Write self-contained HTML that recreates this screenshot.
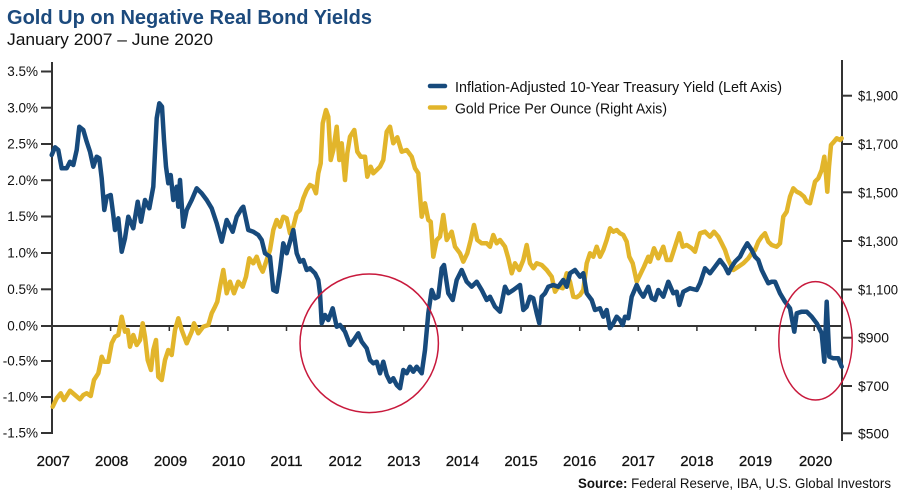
<!DOCTYPE html>
<html><head><meta charset="utf-8"><style>
html,body{margin:0;padding:0;background:#fff;}
svg{display:block;}
text{font-family:"Liberation Sans",sans-serif;}
</style></head><body>
<svg width="900" height="492" viewBox="0 0 900 492" xmlns="http://www.w3.org/2000/svg">
<rect width="900" height="492" fill="#fff"/>
<text x="7" y="24" font-size="20" font-weight="bold" fill="#1c4a7d" textLength="365" lengthAdjust="spacingAndGlyphs">Gold Up on Negative Real Bond Yields</text>
<text x="7" y="45" font-size="17" fill="#111" textLength="206" lengthAdjust="spacingAndGlyphs">January 2007 – June 2020</text>

<!-- left axis -->
<g stroke="#333" stroke-width="2">
<line x1="52" y1="62" x2="52" y2="434"/>
<line x1="41" y1="71.5" x2="52" y2="71.5"/>
<line x1="41" y1="107.7" x2="52" y2="107.7"/>
<line x1="41" y1="144" x2="52" y2="144"/>
<line x1="41" y1="180.2" x2="52" y2="180.2"/>
<line x1="41" y1="216.5" x2="52" y2="216.5"/>
<line x1="41" y1="253" x2="52" y2="253"/>
<line x1="41" y1="289.3" x2="52" y2="289.3"/>
<line x1="41" y1="326" x2="52" y2="326"/>
<line x1="41" y1="361" x2="52" y2="361"/>
<line x1="41" y1="397" x2="52" y2="397"/>
<line x1="41" y1="433" x2="52" y2="433"/>
</g>
<g font-size="13.5" fill="#111" text-anchor="end">
<text x="38" y="76.2">3.5%</text>
<text x="38" y="112.4">3.0%</text>
<text x="38" y="148.7">2.5%</text>
<text x="38" y="184.9">2.0%</text>
<text x="38" y="221.2">1.5%</text>
<text x="38" y="257.7">1.0%</text>
<text x="38" y="294">0.5%</text>
<text x="38" y="330.7">0.0%</text>
<text x="38" y="365.7">-0.5%</text>
<text x="38" y="401.7">-1.0%</text>
<text x="38" y="437.7">-1.5%</text>
</g>

<!-- right axis -->
<g stroke="#333" stroke-width="2">
<line x1="842" y1="60" x2="842" y2="441"/>
<line x1="842" y1="95.7" x2="852" y2="95.7"/>
<line x1="842" y1="144" x2="852" y2="144"/>
<line x1="842" y1="192.3" x2="852" y2="192.3"/>
<line x1="842" y1="241" x2="852" y2="241"/>
<line x1="842" y1="289.5" x2="852" y2="289.5"/>
<line x1="842" y1="337.7" x2="852" y2="337.7"/>
<line x1="842" y1="386" x2="852" y2="386"/>
<line x1="842" y1="433.3" x2="852" y2="433.3"/>
</g>
<g font-size="14" fill="#111">
<text x="858" y="100.7" textLength="40" lengthAdjust="spacingAndGlyphs">$1,900</text>
<text x="858" y="149" textLength="40" lengthAdjust="spacingAndGlyphs">$1,700</text>
<text x="858" y="197.3" textLength="40" lengthAdjust="spacingAndGlyphs">$1,500</text>
<text x="858" y="246" textLength="40" lengthAdjust="spacingAndGlyphs">$1,300</text>
<text x="858" y="294.5" textLength="40" lengthAdjust="spacingAndGlyphs">$1,100</text>
<text x="858" y="342.7" textLength="31" lengthAdjust="spacingAndGlyphs">$900</text>
<text x="858" y="391" textLength="31" lengthAdjust="spacingAndGlyphs">$700</text>
<text x="858" y="438.3" textLength="31" lengthAdjust="spacingAndGlyphs">$500</text>
</g>

<!-- zero line & year ticks -->
<line x1="52" y1="326" x2="842" y2="326" stroke="#333" stroke-width="2"/>
<g stroke="#333" stroke-width="1.5">
<line x1="110.6" y1="326" x2="110.6" y2="331"/>
<line x1="169.3" y1="326" x2="169.3" y2="331"/>
<line x1="227.9" y1="326" x2="227.9" y2="331"/>
<line x1="286.5" y1="326" x2="286.5" y2="331"/>
<line x1="345.2" y1="326" x2="345.2" y2="331"/>
<line x1="403.8" y1="326" x2="403.8" y2="331"/>
<line x1="462.4" y1="326" x2="462.4" y2="331"/>
<line x1="521" y1="326" x2="521" y2="331"/>
<line x1="579.7" y1="326" x2="579.7" y2="331"/>
<line x1="638.3" y1="326" x2="638.3" y2="331"/>
<line x1="696.9" y1="326" x2="696.9" y2="331"/>
<line x1="755.6" y1="326" x2="755.6" y2="331"/>
<line x1="814.2" y1="326" x2="814.2" y2="331"/>
</g>
<g font-size="15" fill="#111" text-anchor="middle" stroke="#111" stroke-width="0.25">
<text x="53.3" y="466">2007</text>
<text x="111.7" y="466">2008</text>
<text x="170.5" y="466">2009</text>
<text x="228.5" y="466">2010</text>
<text x="286.5" y="466">2011</text>
<text x="345.2" y="466">2012</text>
<text x="403.8" y="466">2013</text>
<text x="462.4" y="466">2014</text>
<text x="521" y="466">2015</text>
<text x="579.7" y="466">2016</text>
<text x="638.3" y="466">2017</text>
<text x="696.9" y="466">2018</text>
<text x="755.6" y="466">2019</text>
<text x="815.5" y="466">2020</text>
</g>

<!-- gold series -->
<polyline fill="none" stroke="#e2b52b" stroke-width="4.5" stroke-linejoin="round" stroke-linecap="round" points="52.7,406.7 56.7,398.3 60.7,393.3 64,400 70,390.7 75,395 80,399.3 83.3,395 86.7,393.3 90.7,396 94,380 98.3,373.3 101.7,356.7 104,361.7 108.3,361.7 111.7,343.3 115,336.7 118.3,335 121.7,316.7 125,331.7 127.7,330 130,346.7 133.3,335 136.7,345 140,340 142.7,323.3 145,336.7 147.7,360 151,370 153.3,350 156,340 158.3,376.7 161.7,380 165,360 168.3,350 171.7,355 175,330 178.3,318.3 181.7,330 186.7,343.3 191.7,331.7 194,323.3 198.3,333.3 203.3,326.7 208.3,325 211.7,313.3 215,306.7 217.3,301.7 220,286.7 223.3,270 226.7,293.3 230,281.7 234,293.3 238.3,281.7 242.7,286.7 246,276.7 249.3,258.3 253.3,263.3 256.7,256.7 260,266.7 262.7,271.7 266.7,260 270,250 273.3,230 276.7,220 280,226.7 283.3,216.7 286.7,218.3 290,233.3 293.3,226.7 296.7,213.3 300,210 303.3,198.3 306.7,190 310,185 313.3,186.7 316,193.3 318.3,173.3 320.7,163.3 322.7,123.3 326,110 328.3,116.7 330.7,160 333.3,150 336.7,126.7 339.3,160 341.7,143.3 345,180 347.3,153.3 350,136.7 354.3,130 357.3,151.7 360.7,156.7 365,156.7 367.3,176.7 370.7,166.7 373.3,173.3 376.7,170 380,166.7 383.3,160 386.7,131.7 390,126.7 393.3,143.3 397.3,137.3 401.7,151.7 406.7,150 411.7,156.7 415,168.3 418.3,173.3 421.7,216.7 425,203.3 428.3,220 430.7,221.7 433.3,256.7 436.7,240 440,236.7 443.3,215 446.7,240 451.7,231.7 455,246.7 460,253.3 463.3,261.7 467.3,253.3 470.7,240 474,225 477.3,240 481.7,243.3 486.7,243.3 490,246.7 493.3,235 496.7,243.3 500,240 505,246.7 508.3,258.3 511.7,273.3 515,263.3 519.3,270 523.3,260 526.7,245 530,263.3 533.3,268.3 536.7,263.3 541.7,265 546.7,270 551.7,276.7 555,291.7 558.3,286.7 562.7,288.3 566.7,273.3 570,281.7 573.3,296.7 576.7,297.3 580,295 583.3,290 586.7,263.3 590,253.3 593.3,256.7 596.7,246.7 600,256.7 603.3,250 606.7,240 610,228.3 613.3,231.7 616.7,230 620,233.3 623.3,235 626.7,241.7 629.3,256.7 632.7,263.3 636.7,281.7 640,275 644,266.7 648.3,256.7 650,261.7 654,248.3 658.3,258.3 663.3,246.7 666.7,260 670.7,260 675,246.7 679.3,233.3 682.7,246.7 686.7,245 691.7,248.3 695,251.7 700,233.3 705,231.7 710,236.7 714,231.7 718.3,236.7 721.7,243.3 725,250 728.3,260 733.3,270 738.3,266.7 743.3,263.3 748.3,258.3 751.7,253.3 755,250 758.3,241.7 761.7,236.7 765,233.3 768.3,241.7 771.7,245 776.7,246.7 780,243.3 783.3,216.7 786.7,211.7 790,196.7 793.3,188.3 796.7,191.7 800,193.3 804,196.7 806.7,201.7 810,203.3 812.7,191.7 815,181.7 818.3,178.3 821.7,170 824.3,156.7 826,175 827.3,191.7 829,166.7 831,145 834,141.7 836.7,138.3 840,140 841.7,138.3"/>

<!-- blue series -->
<polyline fill="none" stroke="#174a7c" stroke-width="4.5" stroke-linejoin="round" stroke-linecap="round" points="51.7,155 55,147.3 58.3,150 61.7,168.3 66.7,168.3 70,161.7 73.3,165 76.7,150 79.3,126.7 83.3,130 86.7,141.7 90,151.7 93.3,166.7 96.7,156.7 99.3,158.3 101.7,178.3 104.3,210 106.7,196.7 110.7,195 113.3,215 115,230 118.3,218.3 121.7,251.7 125,238.3 128.3,216.7 133.3,228.3 137.7,201.7 141,221.7 145,200 149.3,208.3 153.3,186.7 156.7,118.3 159.3,103.3 162,106.7 164,140 166,166.7 168.3,183.3 170.7,175 173.3,200 176.7,186.7 178.3,206.7 180,180 183.3,226.7 186.7,210 191.7,200 196.7,188.3 201.7,193.3 206.7,200 211.7,208.3 216.7,223.3 221.7,241.7 226.7,220 232.7,231.7 236.7,216.7 241.7,208.3 243.3,206.7 248.3,230 253.3,231.7 258.3,235 261.7,240 265,253.3 270,256.7 273.3,290 276.7,291.7 280,270 283.3,243.3 286.7,253.3 290,241.7 293.3,230 296.7,253.3 300,261.7 303.3,260 306.7,270 310,268.3 315,273.3 318.3,280 320,293.3 321.7,323.3 325,315 328.3,320 332.7,308.3 336.7,326.7 340,325 345,331.7 350,345 355,338.3 358.3,333.3 361.7,341.7 366.7,348.3 370,360 373.3,363.3 376.7,361.7 380,373.3 383.3,361.7 386.7,375 390,381.7 393.3,378.3 396.7,385 400,388.3 403.3,370 406.7,373.3 410,366.7 413.3,371.7 416.7,366.7 421.7,373.3 425,350 428.3,313.3 431.7,290 435,298.3 438.3,296.7 441.7,268.3 444,265 448.3,293.3 452.7,300 456.7,280 461.7,270 466.7,281.7 471.7,286.7 476.7,281.7 481.7,290 486.7,300 490,296.7 495,306.7 500,311.7 505,286.7 508.3,293.3 513.3,290 520,285 523.3,310 526.7,306.7 530,296.7 533.3,298.3 536.7,313.3 539.3,323.3 541.7,296.7 545,293.3 548.3,286.7 553.3,285 558.3,286.7 563.3,280 566.7,286.7 570,273.3 575,270 580,276.7 583.3,273.3 586.7,293.3 591.7,300 595,310 600,308.3 603.3,316.7 606.7,310 610,328.3 613.3,323.3 616.7,316.7 620,320 622.7,325 625,316.7 628.3,318.3 631.7,296.7 636.7,285 640,292 643.3,296.7 648.3,286.7 651.7,298.3 655,300 658.3,290 663.3,296.7 668.3,281.7 673.3,293.3 676.7,291.7 679.3,305 683.3,291.7 690,288.3 696.7,290 700,283.3 705,268.3 710,273.3 715,266.7 720,260 725,266.7 728.3,273.3 731.7,266.7 735,261.7 740,256.7 743.3,250 747.3,243.3 751.7,250 755,256.7 758.3,260 761.7,270 765,276.7 768.3,283.3 771.7,281.7 775,281.7 780,293.3 785,301.7 790,308.3 794.3,331.7 796.7,313.3 801.7,311.7 806.7,311.7 811.7,316.7 816.7,323.3 821.7,333.3 824.3,361.7 826.7,301.7 829.3,356.7 833.3,358.3 838.3,358.3 841.7,366.7"/>

<!-- red ellipses -->
<ellipse cx="369.2" cy="343.3" rx="69.2" ry="69.3" fill="none" stroke="#c8193c" stroke-width="1.5"/>
<ellipse cx="815.5" cy="340.8" rx="36.7" ry="59.2" fill="none" stroke="#c8193c" stroke-width="1.5"/>

<!-- legend -->
<line x1="430" y1="86" x2="445" y2="86" stroke="#174a7c" stroke-width="4.5" stroke-linecap="round"/>
<line x1="430" y1="107.5" x2="445" y2="107.5" stroke="#e2b52b" stroke-width="4.5" stroke-linecap="round"/>
<text x="455" y="92" font-size="14.5" fill="#111" textLength="327" lengthAdjust="spacingAndGlyphs">Inflation-Adjusted 10-Year Treasury Yield (Left Axis)</text>
<text x="455" y="113.5" font-size="14.5" fill="#111" textLength="212" lengthAdjust="spacingAndGlyphs">Gold Price Per Ounce (Right Axis)</text>

<!-- source -->
<text x="578" y="488" font-size="14" fill="#111" textLength="313" lengthAdjust="spacingAndGlyphs"><tspan font-weight="bold">Source:</tspan> Federal Reserve, IBA, U.S. Global Investors</text>
</svg>
</body></html>
